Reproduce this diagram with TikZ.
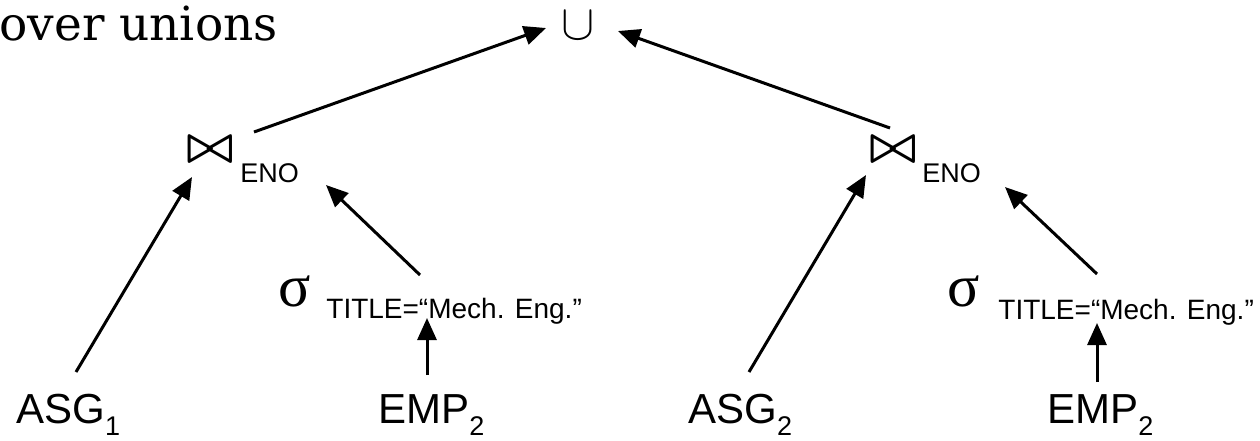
\documentclass[tikz,border=0pt]{standalone}
\usepackage{fontspec}
\usepackage{graphicx}
\usetikzlibrary{arrows.meta}
\newfontfamily\arialfont{Liberation Sans}
\newfontfamily\symbfont{Liberation Serif}
\newfontfamily\titrefont{DejaVu Serif}
\newcommand{\lowsub}[1]{\raisebox{-6pt}{\fontsize{13.5}{14}\selectfont #1}}
\tikzset{
	rel/.style={inner sep=0pt, anchor=base west, font=\arialfont\fontsize{21}{24}\selectfont},
	cond/.style={inner sep=0pt, anchor=base west, font=\arialfont\fontsize{14}{16}\selectfont},
	op/.style={inner sep=0pt},
	arr/.style={-{Triangle[length=11pt,width=9.5pt]}, line width=1.5pt},
}
\begin{document}
\begin{tikzpicture}[x=0.5pt,y=-0.5pt]
	\useasboundingbox (0,0) rectangle (1260,440);
%					Titre :
	\node[inner sep=0pt, anchor=base west, font=\titrefont\fontsize{23.5}{28}\selectfont] (titre) at (-1,40) {over unions};
%					Opérateurs :
	\node[op, font=\fontsize{24}{24}\selectfont] (cup) at (578,26) {$\cup$};
	\node[op, font=\fontsize{28}{28}\selectfont\boldmath] (join1) at (210,150) {$\bowtie$};
	\node[op, font=\fontsize{28}{28}\selectfont\boldmath] (join2) at (893,150) {$\bowtie$};
	\node[cond, font=\arialfont\fontsize{13.5}{16}\selectfont] (eno1) at (240,182) {ENO};
	\node[cond, font=\arialfont\fontsize{13.5}{16}\selectfont] (eno2) at (922,182) {ENO};
	\node[op, font=\symbfont\fontsize{30}{30}\selectfont] (sig1) at (295,291) {σ};
	\node[op, font=\symbfont\fontsize{30}{30}\selectfont] (sig2) at (964,291) {σ};
	\node[cond] (cond1) at (326,318) {TITLE=“Mech. Eng.”};
	\node[cond] (cond2) at (998,319) {TITLE=“Mech. Eng.”};
%					Relations :
	\node[rel] (asg1) at (16,423) {ASG\lowsub{1}};
	\node[rel] (emp1) at (378,423) {EMP\lowsub{2}};
	\node[rel] (asg2) at (688,423) {ASG\lowsub{2}};
	\node[rel] (emp2) at (1047,423) {EMP\lowsub{2}};
%					Tracé des flèches :
	\draw[arr] ([shift={(60,-51)}]asg1.base west) -- ([shift={(-18,27)}]join1.center);
	\draw[arr] ([shift={(94,-43)}]cond1.base west) -- ([shift={(86,3)}]eno1.base west);
	\draw[arr] ([shift={(49,-48)}]emp1.base west) -- ([shift={(101,0)}]cond1.base west);
	\draw[arr] ([shift={(44,-18)}]join1.center) -- ([shift={(-32,2)}]cup.center);
	\draw[arr] ([shift={(-3,-22)}]join2.center) -- ([shift={(40,5)}]cup.center);
	\draw[arr] ([shift={(61,-51)}]asg2.base west) -- ([shift={(-27,25)}]join2.center);
	\draw[arr] ([shift={(99,-45)}]cond2.base west) -- ([shift={(83,5)}]eno2.base west);
	\draw[arr] ([shift={(50,-41)}]emp2.base west) -- ([shift={(99,4)}]cond2.base west);
\end{tikzpicture}
\end{document}
